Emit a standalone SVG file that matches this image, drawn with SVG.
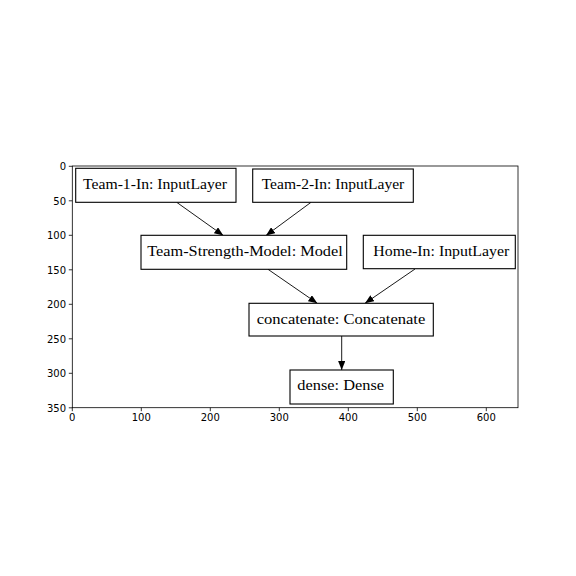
<svg xmlns="http://www.w3.org/2000/svg" width="576" height="576" viewBox="0 0 576 576">
<style>
.box{fill:#fff;stroke:#000;stroke-width:1.1}
.lbl{font-family:"Liberation Serif","DejaVu Serif",serif;font-size:14px;fill:#000;text-anchor:middle}
.edge{stroke:#000;stroke-width:0.9;fill:none}
.tick{stroke:#000;stroke-width:0.8}
.tl{font-family:"DejaVu Sans",sans-serif;font-size:10px;fill:#000}
</style>
<defs>
<marker id="arr" viewBox="0 0 10 8" refX="10" refY="4" markerWidth="9" markerHeight="7.2" markerUnits="userSpaceOnUse" orient="auto">
<path d="M0,0 L10,4 L0,8 z" fill="#000"/>
</marker>
</defs>
<rect width="576" height="576" fill="#fff"/>
<g id="axes">
<rect x="72.3" y="166" width="445.7" height="241.7" fill="none" stroke="#000" stroke-width="0.8"/>
<g class="tick">
<line x1="72.3" y1="407.7" x2="72.3" y2="411.2"/>
<line x1="141.3" y1="407.7" x2="141.3" y2="411.2"/>
<line x1="210.3" y1="407.7" x2="210.3" y2="411.2"/>
<line x1="279.3" y1="407.7" x2="279.3" y2="411.2"/>
<line x1="348.3" y1="407.7" x2="348.3" y2="411.2"/>
<line x1="417.3" y1="407.7" x2="417.3" y2="411.2"/>
<line x1="486.3" y1="407.7" x2="486.3" y2="411.2"/>
<line x1="68.8" y1="166.3" x2="72.3" y2="166.3"/>
<line x1="68.8" y1="200.8" x2="72.3" y2="200.8"/>
<line x1="68.8" y1="235.3" x2="72.3" y2="235.3"/>
<line x1="68.8" y1="269.8" x2="72.3" y2="269.8"/>
<line x1="68.8" y1="304.3" x2="72.3" y2="304.3"/>
<line x1="68.8" y1="338.8" x2="72.3" y2="338.8"/>
<line x1="68.8" y1="373.3" x2="72.3" y2="373.3"/>
<line x1="68.8" y1="407.8" x2="72.3" y2="407.8"/>
</g>
<g class="tl" text-anchor="middle">
<text x="72.3" y="421">0</text>
<text x="141.3" y="421">100</text>
<text x="210.3" y="421">200</text>
<text x="279.3" y="421">300</text>
<text x="348.3" y="421">400</text>
<text x="417.3" y="421">500</text>
<text x="486.3" y="421">600</text>
</g>
<g class="tl" text-anchor="end">
<text x="66" y="170">0</text>
<text x="66" y="204.5">50</text>
<text x="66" y="239">100</text>
<text x="66" y="273.5">150</text>
<text x="66" y="308">200</text>
<text x="66" y="342.5">250</text>
<text x="66" y="377">300</text>
<text x="66" y="411.5">350</text>
</g>
</g>
<g id="connectors">
<line class="edge" x1="176.7" y1="202.3" x2="223.3" y2="235.5" marker-end="url(#arr)"/>
<line class="edge" x1="311" y1="202.3" x2="266" y2="235.5" marker-end="url(#arr)"/>
<line class="edge" x1="268" y1="269.3" x2="317.3" y2="303.3" marker-end="url(#arr)"/>
<line class="edge" x1="415" y1="269" x2="365" y2="303.3" marker-end="url(#arr)"/>
<line class="edge" x1="341.7" y1="336" x2="341.7" y2="370" marker-end="url(#arr)"/>
</g>
<g id="team1">
<rect class="box" x="75.7" y="168.3" width="160.3" height="34"/>
<text class="lbl" x="155" y="188.8" textLength="144" lengthAdjust="spacingAndGlyphs">Team-1-In: InputLayer</text>
</g>
<g id="team2">
<rect class="box" x="252.7" y="169" width="160.6" height="33.3"/>
<text class="lbl" x="333" y="188.8" textLength="142.6" lengthAdjust="spacingAndGlyphs">Team-2-In: InputLayer</text>
</g>
<g id="tsm">
<rect class="box" x="141" y="235.3" width="205.7" height="34"/>
<text class="lbl" x="245" y="255.5" textLength="195.4" lengthAdjust="spacingAndGlyphs">Team-Strength-Model: Model</text>
</g>
<g id="home">
<rect class="box" x="363.3" y="235.3" width="152" height="33.4"/>
<text class="lbl" x="441.3" y="255.5" textLength="136" lengthAdjust="spacingAndGlyphs">Home-In: InputLayer</text>
</g>
<g id="concat">
<rect class="box" x="249" y="303.3" width="184.3" height="32.7"/>
<text class="lbl" x="341" y="324.3" textLength="168.6" lengthAdjust="spacingAndGlyphs">concatenate: Concatenate</text>
</g>
<g id="dense">
<rect class="box" x="290" y="370" width="103.3" height="34"/>
<text class="lbl" x="340.7" y="389.5" textLength="86.7" lengthAdjust="spacingAndGlyphs">dense: Dense</text>
</g>
</svg>
